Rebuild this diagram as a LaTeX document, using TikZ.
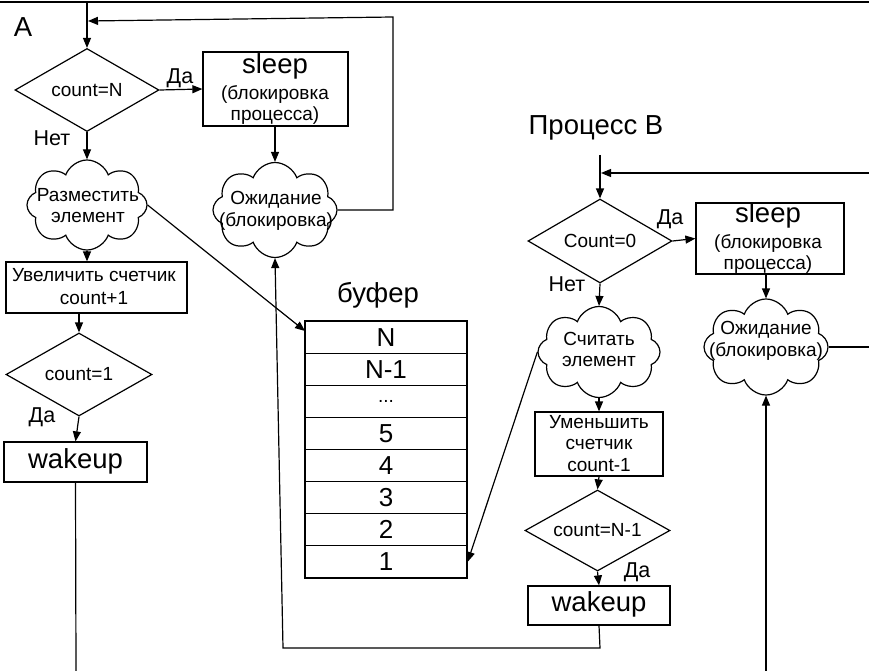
\documentclass[tikz,border=0pt]{standalone}
\usepackage{fontspec}
\setmainfont{Liberation Sans}
\usetikzlibrary{arrows.meta,shapes.geometric,shapes.symbols}
\begin{document}
\begin{tikzpicture}[x=1pt,y=-1pt,
  line width=1.2pt,
  arr/.style={-{Triangle[length=10pt,width=8pt]}},
  box/.style={draw, rectangle, inner sep=0pt},
  diam/.style={draw, diamond, inner sep=0pt},
  cld/.style={draw, cloud, cloud puffs=8, cloud puff arc=140, cloud ignores aspect, shape border rotate=22.5, inner sep=0pt},
  sm/.style={font=\fontsize{19}{22}\selectfont, inner sep=0pt, align=center},
  md/.style={font=\fontsize{21.5}{25}\selectfont, inner sep=0pt},
  bg/.style={font=\fontsize{27.5}{32}\selectfont, inner sep=0pt},
  num/.style={font=\fontsize{26}{30}\selectfont},
]
\useasboundingbox (0,0) rectangle (869,671);
\draw[line width=2.5pt] (0,2) -- (869,2);

% ---------- Process A ----------
\node[bg] (lblA) at (23,27) {А};
\node[diam, minimum width=144pt, minimum height=83pt] (d1) at (87,90) {};
\node[sm] (d1t) at (d1) {count=N};
\node[box, minimum width=145pt, minimum height=74pt] (s1) at (275.5,89) {};
\node[bg] (s1a) at (275,66) {sleep};
\node[sm] (s1b) at (275,95) {(блокировка};
\node[sm] (s1c) at (275,116) {процесса)};
\node[cld, minimum width=120pt, minimum height=90pt] (c1) at (87,205) {};
\node[sm, font=\fontsize{19}{21}\selectfont] (c1t) at (88,205.5) {Разместить\\элемент};
\node[cld, minimum width=124pt, minimum height=95pt] (c2) at (275,210) {};
\node[sm, font=\fontsize{19}{22}\selectfont] (c2t) at (276,211) {Ожидание\\(блокировка)};
\node[box, minimum width=181pt, minimum height=51pt] (b1) at (96.5,287.5) {};
\node[sm, font=\fontsize{19}{23}\selectfont] (b1t) at (94,286.5) {Увеличить счетчик\\count+1};
\node[diam, minimum width=146pt, minimum height=83pt] (d2) at (79,374.5) {};
\node[sm] (d2t) at (d2) {count=1};
\node[box, minimum width=143pt, minimum height=40pt] (w1) at (75.5,462) {};
\node[bg] (w1t) at (75.5,461) {wakeup};

\node[md] (netA) at (52,138) {Нет};
\node[md] (daA) at (180,78) {Да};
\node[md] (daA2) at (42,417) {Да};

% ---------- buffer ----------
\node[bg] (buf) at (378,295) {буфер};
\foreach \i/\t in {1/N,2/N-1,4/5,5/4,6/3,7/2,8/1}{
  \node[box, num, minimum width=162pt, minimum height=32.125pt] (r\i) at (386,{321+32.125*(\i-0.5)}) {\t};
}
\node[box, sm, minimum width=162pt, minimum height=32.125pt] (r3) at (386,{321+32.125*2.5}) {...};
\coordinate (bin) at (305,331);

% ---------- Process B ----------
\node[bg] (lblB) at (596,128) {Процесс В};
\node[diam, minimum width=144pt, minimum height=84pt] (d3) at (600,241) {};
\node[sm] (d3t) at (d3) {Count=0};
\node[box, minimum width=148pt, minimum height=71pt] (s2) at (770,238.5) {};
\node[bg] (s2a) at (768,215) {sleep};
\node[sm] (s2b) at (768,244) {(блокировка};
\node[sm] (s2c) at (768,265) {процесса)};
\node[cld, minimum width=122pt, minimum height=91pt] (c3) at (599,352) {};
\node[sm, font=\fontsize{19}{21}\selectfont] (c3t) at (599,349.5) {Считать\\элемент};
\node[box, minimum width=128pt, minimum height=64pt] (b2) at (599,444) {};
\node[sm, font=\fontsize{19}{21.5}\selectfont] (b2t) at (599,443.5) {Уменьшить\\счетчик\\count-1};
\node[diam, minimum width=145pt, minimum height=81pt] (d4) at (597.5,530.5) {};
\node[sm] (d4t) at (d4) {count=N-1};
\node[box, minimum width=142pt, minimum height=39pt] (w2) at (599,605.5) {};
\node[bg] (w2t) at (599,604.5) {wakeup};
\node[cld, minimum width=124pt, minimum height=96pt] (c4) at (766,347) {};
\node[sm, font=\fontsize{19}{22}\selectfont] (c4t) at (766,341) {Ожидание\\(блокировка)};

\node[md] (netB) at (567,284) {Нет};
\node[md] (daB) at (670,219) {Да};
\node[md] (daB2) at (637,572) {Да};

% ---------- connectors A ----------
\coordinate (inA) at (87,3);
\draw[arr] (inA) -- (d1.north);
\coordinate (la1) at (393,210);
\coordinate (la2) at (393,17);
\coordinate (la3) at (88,21);
\draw[arr] (c2.east) -- (la1) -- (la2) -- (la3);
\draw[arr] (d1.east) -- (s1.west);
\draw[arr] (s1.south -| c2.north) -- (c2.north);
\draw[arr] (d1.south) -- (c1.north);
\draw[arr] (c1.south) -- (c1.south |- b1.north);
\draw[arr] (d2.north |- b1.south) -- (d2.north);
\draw[arr] (d2.south) -- (w1.north);
\coordinate (outA) at (76,671);
\draw (w1.south) -- (outA);
\draw[arr] (c1.east) -- (bin);

% ---------- connectors B ----------
\coordinate (inB) at (600,155);
\draw[arr] (inB) -- (d3.north);
\coordinate (lb1) at (869,173);
\coordinate (lb2) at (601,173);
\draw[arr] (lb1) -- (lb2);
\draw[arr] (d3.east) -- (s2.west);
\draw[arr] (s2.south -| c4.north) -- (c4.north);
\draw[arr] (d3.south) -- (c3.north);
\draw[arr] (c3.south) -- (b2.north);
\draw[arr] (b2.south) -- (d4.north);
\draw[arr] (d4.south) -- (w2.north);
\coordinate (rb) at (869,347);
\draw (c4.east) -- (rb);
\coordinate (inB2) at (766,671);
\draw[arr] (inB2) -- (c4.south);
\draw[arr] (c3.west) -- (r8.east);
\coordinate (lw1) at (600,648);
\coordinate (lw2) at (283,648);
\draw[arr] (w2.south) -- (lw1) -- (lw2) -- (c2.south);
\end{tikzpicture}
\end{document}
